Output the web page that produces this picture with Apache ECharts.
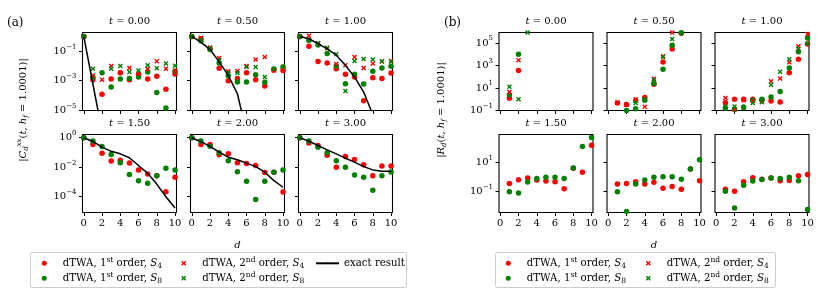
<!DOCTYPE html>
<html><head><meta charset="utf-8">
<script src="https://cdn.jsdelivr.net/npm/echarts@6/dist/echarts.min.js"></script>
<style>html,body{margin:0;padding:0;background:#fff}#c{width:830px;height:304px}</style>
</head><body><div id="c"></div>
<script>
// ---------------- data ----------------
const distances = [0,1,2,3,4,5,6,7,8,9,10];
const times = ['0.00','0.50','1.00','1.50','2.00','3.00'];
const xTickValues = [0,2,4,6,8,10];
const cTickExpRow1 = [-5,-3,-1];
const cTickExpRow2 = [-4,-2,0];
const rTickExpRow1 = [-1,1,3,5];
const rTickExpRow2 = [-1,1];

// (a) |C_d^xx(t)| ; one row per time
const cFirstS4 = [
  [1, 1.17e-3, 1.2e-4, 1.3e-3, 3.5e-3, 1.17e-3, 2.6e-3, 1.3e-3, 2.0e-3, 2.6e-4, 2.8e-3],
  [1, 0.69, 0.145, 6.9e-3, 1.0e-3, 1.4e-3, 3.5e-3, 1.17e-3, 4.4e-4, 5.4e-3, 5.0e-3],
  [1, 0.22, 0.02, 0.016, 6.6e-3, 2.7e-3, 1.8e-3, 4.4e-5, 1.6e-3, 1.4e-3, 3.3e-3],
  [1, 0.35, 0.089, 0.026, 0.03, 0.019, 6.6e-3, 3.5e-3, 2.6e-3, 2.2e-4, 2.1e-3],
  [1, 0.35, 0.35, 0.069, 0.081, 0.02, 0.018, 0.013, 4.4e-3, 4.6e-3, 2.1e-4],
  [1, 0.44, 0.3, 0.066, 0.01, 0.054, 0.033, 0.015, 2.6e-3, 0.0123, 0.0123]
];
const cFirstS8 = [
  [1, 1.7e-3, 3.5e-3, 3.7e-4, 1.3e-3, 1.4e-3, 1.8e-3, 3.9e-3, 1.6e-4, 1.4e-5, 4.4e-3],
  [1, 0.5, 0.13, 0.016, 2.2e-3, 8.1e-4, 8.1e-4, 2.5e-3, 7.8e-4, 6.3e-3, 8.5e-3],
  [1, 0.56, 0.26, 0.069, 0.01, 6.3e-4, 2.7e-3, 5.9e-4, 4.4e-3, 7.2e-3, 9.5e-3],
  [1, 0.59, 0.25, 0.072, 0.02, 3.2e-3, 1.23e-3, 8.1e-4, 2.6e-3, 8.5e-3, 6.6e-3],
  [1, 0.59, 0.26, 0.095, 0.027, 5.0e-3, 1.1e-3, 6.6e-5, 1.1e-3, 4.6e-3, 6.6e-3],
  [1, 0.59, 0.23, 0.095, 0.028, 0.01, 3.0e-3, 2.1e-3, 2.8e-4, 2.6e-3, 4.8e-3]
];
const cSecondS4 = [
  [1, 2.3e-3, 1.17e-3, 0.01, 3.5e-3, 7.2e-3, 2.8e-3, 6.3e-3, 0.021, 6.6e-3, 4.8e-3],
  [1, 0.81, 0.18, 0.035, 4.4e-3, 4.6e-3, 0.01, 0.028, 0.041, 5.0e-3, 6.3e-3],
  [1, 1.1, 0.35, 0.16, 0.0138, 0.011, 0.041, 7.2e-3, 0.0145, 0.02, 0.022]
];
const cSecondS8 = [
  [1, 6.6e-3, null, 6.6e-3, 0.01, 3.9e-3, 5.0e-3, 0.011, 6.9e-3, 0.0145, 0.0105],
  [1, 0.59, 0.16, 0.025, 3.5e-3, 3.3e-3, 8.5e-3, 8.5e-3, 1.8e-3, 6.3e-3, 8.9e-3],
  [1, 0.56, 0.35, 0.17, 0.063, 2.0e-4, 0.022, 0.03, 0.027, 0.021, 0.02]
];
const cExact = [
  [1, 6e-4, 3.6e-7, 2.2e-10, 1.3e-13, 8e-17, 5e-20, 3e-23, 2e-26, 1e-29, 7e-33],
  [1, 0.41, 0.13, 0.019, 2.3e-3, 1.3e-4, 3e-7, 1e-9, 3e-12, 1e-14, 3e-17],
  [1, 0.7, 0.33, 0.145, 0.054, 0.011, 1.8e-3, 1.7e-4, 5e-6, 1e-7, 1e-9],
  [1, 0.56, 0.23, 0.12, 0.081, 0.044, 0.013, 3.9e-3, 7.2e-4, 1.0e-4, 1.7e-5],
  [1, 0.54, 0.26, 0.105, 0.048, 0.032, 0.019, 0.011, 4.6e-3, 1.23e-3, 4.4e-4],
  [1, 0.59, 0.3, 0.15, 0.081, 0.041, 0.022, 0.011, 6.6e-3, 5.4e-3, 5.4e-3]
];

// (b) |R_d(t)| ; one row per time
const rFirstS4 = [
  [null, 1.2, 350, null, null, null, null, null, null, null, null],
  [null, 0.46, 0.35, 0.74, 1.45, 21, 2000, 2.9e4, 7.4e5, null, null],
  [null, 0.49, 1.0, 1.0, 1.0, 0.8, 0.69, 0.56, 230, 3500, 8.1e4],
  [null, 0.37, 0.66, 0.85, 0.63, 0.54, 0.48, 0.16, 4.0, 2.1, 145],
  [null, 0.33, 0.37, 0.48, 0.33, 0.44, 0.17, 0.23, 0.15, 3.5, 0.56],
  [null, 0.145, 0.11, 0.48, 0.89, 0.7, 0.85, 0.56, 0.59, 1.23, 1.5]
];
const rFirstS8 = [
  [null, 2.5, 1.0e4, null, null, null, null, null, null, null, null],
  [null, null, 0.1, 0.14, 0.8, 25, 470, 6.2e4, 8e5, null, null],
  [null, 0.17, 0.13, 0.2, 0.8, 1.0, 1.55, 5.0, 590, 1.7e4, 2.8e5],
  [null, 0.1, 0.081, 0.46, 0.78, 0.95, 0.95, 0.78, 4.1, 117, 480],
  [null, 0.1, 4.6e-3, 0.33, 0.63, 0.95, 1.05, 1.05, 0.72, 3.5, 15],
  [null, 0.11, 7.8e-3, 0.28, 0.54, 0.69, 0.85, 0.78, 0.95, 0.56, 6.3e-3]
];
const rSecondS4 = [
  [null, 4.4, 2900, null, null, null, null, null, null, null, null],
  [null, 0.52, 0.32, 1.0, 0.21, 65, 6500, 8.5e5, null, null, null],
  [null, 1.26, 0.12, 0.8, 0.69, 0.56, 39, 71, 1900, 5.0e4, 6.3e5]
];
const rSecondS8 = [
  [null, 13, 1.0, 8.5e5, null, null, null, null, null, null, null],
  [null, null, null, 0.46, 1.0, 56, 5600, 2.3e5, null, null, null],
  [null, 0.23, 0.23, 0.16, 0.46, 0.56, 19.5, 280, 3500, 3.2e4, 8.9e4]
];

// ---------------- layout / style ----------------
const FF = 'DejaVu Serif';
const RED = '#ff0000', GREEN = '#008000';
const XSYM = 'path://M0,2 L2,0 L5,3 L8,0 L10,2 L7,5 L10,8 L8,10 L5,7 L2,10 L0,8 L3,5 Z';
const W = 94, H = 78;
const rowTops = [32.5, 134.5];
const leftsA = [82.5, 190.5, 298.5];
const leftsB = [499, 607, 715];
const yRangeA = [[-5.02, 0.27], [-5.07, 0.22]];
const yRangeB = [[-1, 5.93], [-2.41, 2.89]];

const richBase = {
  b: {fontFamily: FF, fontSize: 10, lineHeight: 16, color: '#000'},
  s: {fontFamily: FF, fontSize: 7, lineHeight: 8, verticalAlign: 'top', color: '#000'}
};
const expText = v => (v < 0 ? '\u2212' + (-v) : String(v));

const grid = [], xAxis = [], yAxis = [], series = [], graphic = [];

function toPts(arr) {
  const out = [];
  arr.forEach((v, i) => { if (v !== null && v > 0) out.push([distances[i], Math.log10(v)]); });
  return out;
}
function addScatter(gi, name, arr, color, sym, size) {
  if (!arr) return;
  series.push({type: 'scatter', name, xAxisIndex: gi, yAxisIndex: gi, symbol: sym, symbolSize: size,
    itemStyle: {color, opacity: 1}, data: toPts(arr), silent: true, clip: true});
}
function addPanel(gi, left, top, yRange, yTicks, showY, showX, title) {
  grid.push({left, top, width: W, height: H, show: true, borderColor: '#000', borderWidth: 1.1, backgroundColor: 'rgba(0,0,0,0)'});
  xAxis.push({gridIndex: gi, type: 'value', position: 'bottom', min: -0.14, max: 10.16,
    axisLine: {show: false, onZero: false}, splitLine: {show: false},
    axisTick: {show: true, customValues: xTickValues, length: 3.5, lineStyle: {color: '#000', width: 1}},
    axisLabel: {show: showX, customValues: xTickValues, margin: 6, fontFamily: FF, fontSize: 10, color: '#000'}});
  yAxis.push({gridIndex: gi, type: 'value', position: 'left', min: yRange[0], max: yRange[1],
    axisLine: {show: false, onZero: false}, splitLine: {show: false},
    axisTick: {show: true, customValues: yTicks, length: 3.5, lineStyle: {color: '#000', width: 1}},
    axisLabel: {show: showY, customValues: yTicks, margin: 6, formatter: v => '{b|10}{s|' + expText(v) + '}', rich: richBase}});
  graphic.push({type: 'text', x: left + W / 2, y: top - 11.5,
    style: {text: '{i|t} = ' + title, fontFamily: FF, fontSize: 10, fill: '#000', align: 'center', verticalAlign: 'middle',
      rich: {i: {fontFamily: FF, fontSize: 10, fontStyle: 'italic'}}}});
}

// group (a)
for (let k = 0; k < 6; k++) {
  const row = k < 3 ? 0 : 1, col = k % 3, gi = k;
  addPanel(gi, leftsA[col], rowTops[row], yRangeA[row], row === 0 ? cTickExpRow1 : cTickExpRow2, col === 0, row === 1, times[k]);
  addScatter(gi, 'o1S4', cFirstS4[k], RED, 'circle', 5.5);
  addScatter(gi, 'o1S8', cFirstS8[k], GREEN, 'circle', 5.5);
  addScatter(gi, 'o2S4', cSecondS4[k], RED, XSYM, 5);
  addScatter(gi, 'o2S8', cSecondS8[k], GREEN, XSYM, 5);
  series.push({type: 'line', name: 'exact', xAxisIndex: gi, yAxisIndex: gi, showSymbol: false, symbol: 'none',
    data: cExact[k].map((v, i) => [distances[i], Math.log10(v)]), lineStyle: {color: '#000', width: 1.5},
    itemStyle: {color: '#000'}, clip: true, silent: true});
}
// group (b)
for (let k = 0; k < 6; k++) {
  const row = k < 3 ? 0 : 1, col = k % 3, gi = 6 + k;
  addPanel(gi, leftsB[col], rowTops[row], yRangeB[row], row === 0 ? rTickExpRow1 : rTickExpRow2, col === 0, row === 1, times[k]);
  addScatter(gi, 'o1S4', rFirstS4[k], RED, 'circle', 5.5);
  addScatter(gi, 'o1S8', rFirstS8[k], GREEN, 'circle', 5.5);
  addScatter(gi, 'o2S4', rSecondS4[k], RED, XSYM, 5);
  addScatter(gi, 'o2S8', rSecondS8[k], GREEN, XSYM, 5);
}

// texts
const mathRich = {
  it: {fontFamily: FF, fontSize: 10, fontStyle: 'italic', lineHeight: 14},
  sub: {fontFamily: FF, fontSize: 7, fontStyle: 'italic', verticalAlign: 'bottom', lineHeight: 7},
  sup: {fontFamily: FF, fontSize: 7, fontStyle: 'italic', verticalAlign: 'top', lineHeight: 7}
};
graphic.push({type: 'text', x: 23, y: 110, rotation: Math.PI / 2,
  style: {text: '|{it|C}{sub|d}{sup|xx}({it|t}, {it|h}{sub|f} = 1.0001)|', fontFamily: FF, fontSize: 10, lineHeight: 14,
    fill: '#000', align: 'center', verticalAlign: 'middle', rich: mathRich}});
graphic.push({type: 'text', x: 441, y: 110, rotation: Math.PI / 2,
  style: {text: '|{it|R}{sub|d}({it|t}, {it|h}{sub|f} = 1.0001)|', fontFamily: FF, fontSize: 10, lineHeight: 14,
    fill: '#000', align: 'center', verticalAlign: 'middle', rich: mathRich}});
graphic.push({type: 'text', x: 237.5, y: 245, style: {text: 'd', fontFamily: FF, fontSize: 10, fontStyle: 'italic', fill: '#000', align: 'center', verticalAlign: 'middle'}});
graphic.push({type: 'text', x: 654, y: 245, style: {text: 'd', fontFamily: FF, fontSize: 10, fontStyle: 'italic', fill: '#000', align: 'center', verticalAlign: 'middle'}});
graphic.push({type: 'text', x: 7, y: 22.5, style: {text: '(a)', fontFamily: FF, fontSize: 12, fill: '#000', align: 'left', verticalAlign: 'middle'}});
graphic.push({type: 'text', x: 444, y: 22.5, style: {text: '(b)', fontFamily: FF, fontSize: 12, fill: '#000', align: 'left', verticalAlign: 'middle'}});
// legend frames
graphic.push({type: 'rect', z: 0, shape: {x: 30.5, y: 252.5, width: 376, height: 35, r: 2}, style: {fill: '#fff', stroke: '#cccccc', lineWidth: 1}});
graphic.push({type: 'rect', z: 0, shape: {x: 495.5, y: 252.5, width: 280, height: 35, r: 2}, style: {fill: '#fff', stroke: '#cccccc', lineWidth: 1}});

const legendLabels = {
  o1S4: 'dTWA, 1{sup|st} order, {it|S}{sub|4}',
  o1S8: 'dTWA, 1{sup|st} order, {it|S}{sub|8}',
  o2S4: 'dTWA, 2{sup|nd} order, {it|S}{sub|4}',
  o2S8: 'dTWA, 2{sup|nd} order, {it|S}{sub|8}',
  exact: 'exact result'
};
const LFS = 10.2;
const legRich = {
  it: {fontFamily: FF, fontSize: LFS, fontStyle: 'italic', lineHeight: 14, color: '#000'},
  sub: {fontFamily: FF, fontSize: 7.5, verticalAlign: 'bottom', lineHeight: 7, color: '#000'},
  sup: {fontFamily: FF, fontSize: 7.5, verticalAlign: 'top', lineHeight: 7, color: '#000'}
};
function leg(names, left, itemWidth) {
  return {orient: 'vertical', left, top: 256.3, padding: 0, itemGap: 1, itemWidth, itemHeight: 5, z: 10,
    selectedMode: false, data: names, formatter: n => legendLabels[n],
    textStyle: {fontFamily: FF, fontSize: LFS, lineHeight: 14, color: '#000', rich: legRich}};
}
const legend = [
  leg(['o1S4', 'o1S8'], 41.8, 27),
  leg(['o2S4', 'o2S8'], 181.2, 27),
  Object.assign(leg(['exact'], 315, 23), {itemHeight: 2}),
  leg(['o1S4', 'o1S8'], 505.8, 27),
  leg(['o2S4', 'o2S8'], 645.8, 27)
];

const chart = echarts.init(document.getElementById('c'), null, {renderer: 'canvas'});
chart.setOption({animation: false, backgroundColor: '#fff', grid, xAxis, yAxis, series, graphic, legend});
</script></body></html>
